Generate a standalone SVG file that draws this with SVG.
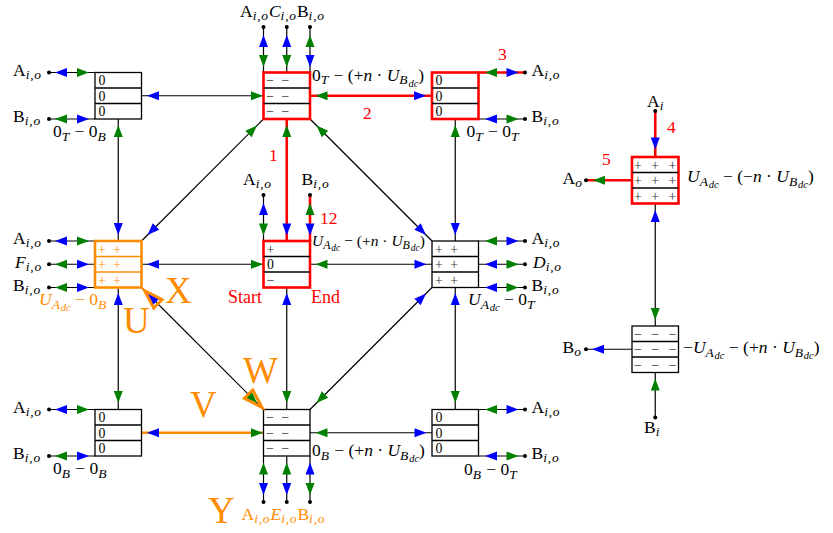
<svg xmlns="http://www.w3.org/2000/svg" xmlns:xlink="http://www.w3.org/1999/xlink" width="833" height="533" viewBox="0 0 833 533">
<style>
text{font-family:"Liberation Serif","Times New Roman",serif;font-size:17.5px;fill:#000}
.i{font-style:italic}
.s{font-size:13.5px;font-style:italic;letter-spacing:0.8px}
.ss{font-size:10.5px;font-style:italic}
.red{fill:#ff0000}
.org{fill:#ff8c00}
.big{font-size:37px;fill:#ff8c00}
.cell{font-size:13.8px}
.dash{font-size:13.8px;fill:#666;font-weight:bold;letter-spacing:2px}
.pl{font-size:13.8px;fill:#333;letter-spacing:2px}
.pl3{letter-spacing:3px}
.box{fill:#fff;stroke:#000;stroke-width:1.3}
.boxr{fill:#fff;stroke:#ff0000;stroke-width:2.6}
.boxo{fill:#fff;stroke:#ff8c00;stroke-width:2.6}
.sep{stroke:#000;stroke-width:1.3}
.sepo{stroke:#ff8c00;stroke-width:1.3}
.ln{stroke:#000;stroke-width:1.2;fill:none}
.lr{stroke:#ff0000;stroke-width:2.6;fill:none}
.lo{stroke:#ff8c00;stroke-width:2.6;fill:none}
.b{fill:#0000ff}
.g{fill:#008000}
.dot{fill:#000}
.mk{fill:none;stroke:#ff8c00;stroke-width:3}
.sm{font-size:15.5px}
.sm .s{font-size:12px}
.sm .ss{font-size:9.5px}
</style>
<defs>
<path id="ah" d="M0,0 L-12,-4.5 L-12,4.5 Z"/>
</defs>

<g id="connectors">
<line class="ln" x1="141.5" y1="95.75" x2="263.5" y2="95.75"/>
<line class="lr" x1="310" y1="95.75" x2="432" y2="95.75"/>
<line class="ln" x1="141.5" y1="264.25" x2="263.5" y2="264.25"/>
<line class="ln" x1="310" y1="264.25" x2="432" y2="264.25"/>
<line class="lo" x1="141.5" y1="432.75" x2="263.5" y2="432.75"/>
<line class="ln" x1="310" y1="432.75" x2="432" y2="432.75"/>
<line class="ln" x1="118.25" y1="119" x2="118.25" y2="241"/>
<line class="ln" x1="118.25" y1="287.5" x2="118.25" y2="409.5"/>
<line class="lr" x1="286.75" y1="119" x2="286.75" y2="241"/>
<line class="ln" x1="286.75" y1="287.5" x2="286.75" y2="409.5"/>
<line class="ln" x1="455.25" y1="119" x2="455.25" y2="241"/>
<line class="ln" x1="455.25" y1="287.5" x2="455.25" y2="409.5"/>
<line class="ln" x1="263.5" y1="119" x2="141.5" y2="241"/>
<line class="ln" x1="310" y1="119" x2="432" y2="241"/>
<line class="ln" x1="141.5" y1="287.5" x2="263.5" y2="409.5"/>
<line class="ln" x1="432" y1="287.5" x2="310" y2="409.5"/>
<line class="ln" x1="49" y1="72.5" x2="95" y2="72.5"/>
<line class="ln" x1="49" y1="119" x2="95" y2="119"/>
<line class="ln" x1="263.5" y1="27" x2="263.5" y2="72.5"/>
<line class="ln" x1="286.75" y1="27" x2="286.75" y2="72.5"/>
<line class="ln" x1="310" y1="27" x2="310" y2="72.5"/>
<line class="lr" x1="478.5" y1="72.5" x2="525" y2="72.5"/>
<line class="ln" x1="478.5" y1="119" x2="525" y2="119"/>
<line class="ln" x1="49" y1="241" x2="95" y2="241"/>
<line class="ln" x1="49" y1="264.25" x2="95" y2="264.25"/>
<line class="ln" x1="49" y1="287.5" x2="95" y2="287.5"/>
<line class="ln" x1="263.5" y1="195" x2="263.5" y2="241"/>
<line class="lr" x1="310" y1="195" x2="310" y2="241"/>
<line class="ln" x1="478.5" y1="241" x2="525" y2="241"/>
<line class="ln" x1="478.5" y1="264.25" x2="525" y2="264.25"/>
<line class="ln" x1="478.5" y1="287.5" x2="525" y2="287.5"/>
<line class="ln" x1="49" y1="409.5" x2="95" y2="409.5"/>
<line class="ln" x1="49" y1="456" x2="95" y2="456"/>
<line class="ln" x1="263.5" y1="456" x2="263.5" y2="502"/>
<line class="ln" x1="286.75" y1="456" x2="286.75" y2="502"/>
<line class="ln" x1="310" y1="456" x2="310" y2="502"/>
<line class="ln" x1="478.5" y1="409.5" x2="525" y2="409.5"/>
<line class="ln" x1="478.5" y1="456" x2="525" y2="456"/>
<line class="lr" x1="655.25" y1="111" x2="655.25" y2="157"/>
<line class="lr" x1="586" y1="180.25" x2="632" y2="180.25"/>
<line class="ln" x1="655.25" y1="203.5" x2="655.25" y2="326"/>
<line class="ln" x1="586" y1="349.25" x2="632" y2="349.25"/>
<line class="ln" x1="655.25" y1="372.5" x2="655.25" y2="417.5"/>

<circle class="dot" cx="49" cy="72.5" r="2"/>
<circle class="dot" cx="49" cy="119" r="2"/>
<circle class="dot" cx="263.5" cy="27" r="2"/>
<circle class="dot" cx="286.75" cy="27" r="2"/>
<circle class="dot" cx="310" cy="27" r="2"/>
<circle class="dot" cx="525" cy="72.5" r="2"/>
<circle class="dot" cx="525" cy="119" r="2"/>
<circle class="dot" cx="49" cy="241" r="2"/>
<circle class="dot" cx="49" cy="264.25" r="2"/>
<circle class="dot" cx="49" cy="287.5" r="2"/>
<circle class="dot" cx="263.5" cy="195" r="2"/>
<circle class="dot" cx="310" cy="195" r="2"/>
<circle class="dot" cx="525" cy="241" r="2"/>
<circle class="dot" cx="525" cy="264.25" r="2"/>
<circle class="dot" cx="525" cy="287.5" r="2"/>
<circle class="dot" cx="49" cy="409.5" r="2"/>
<circle class="dot" cx="49" cy="456" r="2"/>
<circle class="dot" cx="263.5" cy="502" r="2"/>
<circle class="dot" cx="286.75" cy="502" r="2"/>
<circle class="dot" cx="310" cy="502" r="2"/>
<circle class="dot" cx="525" cy="409.5" r="2"/>
<circle class="dot" cx="525" cy="456" r="2"/>
<circle class="dot" cx="655.25" cy="111" r="2"/>
<circle class="dot" cx="586" cy="180.25" r="2"/>
<circle class="dot" cx="586" cy="349.25" r="2"/>
<circle class="dot" cx="655.25" cy="417.5" r="2"/>

<use href="#ah" class="b" transform="translate(147,95.75) rotate(180)"/>
<use href="#ah" class="g" transform="translate(263,95.75)"/>
<use href="#ah" class="g" transform="translate(315.5,95.75) rotate(180)"/>
<use href="#ah" class="b" transform="translate(426,95.75)"/>
<use href="#ah" class="b" transform="translate(147,264.25) rotate(180)"/>
<use href="#ah" class="g" transform="translate(263,264.25)"/>
<use href="#ah" class="g" transform="translate(315.5,264.25) rotate(180)"/>
<use href="#ah" class="b" transform="translate(426.5,264.25)"/>
<use href="#ah" class="b" transform="translate(147,432.75) rotate(180)"/>
<use href="#ah" class="g" transform="translate(263,432.75)"/>
<use href="#ah" class="g" transform="translate(315.5,432.75) rotate(180)"/>
<use href="#ah" class="b" transform="translate(426.5,432.75)"/>
<use href="#ah" class="g" transform="translate(118.25,125) rotate(-90)"/>
<use href="#ah" class="b" transform="translate(118.25,235) rotate(90)"/>
<use href="#ah" class="b" transform="translate(118.25,293) rotate(-90)"/>
<use href="#ah" class="g" transform="translate(118.25,403) rotate(90)"/>
<use href="#ah" class="g" transform="translate(286.75,125) rotate(-90)"/>
<use href="#ah" class="b" transform="translate(286.75,235.5) rotate(90)"/>
<use href="#ah" class="b" transform="translate(286.75,293) rotate(-90)"/>
<use href="#ah" class="g" transform="translate(286.75,403) rotate(90)"/>
<use href="#ah" class="g" transform="translate(455.25,125) rotate(-90)"/>
<use href="#ah" class="b" transform="translate(455.25,235) rotate(90)"/>
<use href="#ah" class="b" transform="translate(455.25,293) rotate(-90)"/>
<use href="#ah" class="g" transform="translate(455.25,403) rotate(90)"/>
<use href="#ah" class="g" transform="translate(257,125.5) rotate(-45)"/>
<use href="#ah" class="b" transform="translate(147.5,235) rotate(135)"/>
<use href="#ah" class="g" transform="translate(316.5,125.5) rotate(-135)"/>
<use href="#ah" class="b" transform="translate(426,235) rotate(45)"/>
<use href="#ah" class="b" transform="translate(147.5,293.5) rotate(-135)"/>
<use href="#ah" class="g" transform="translate(257,403) rotate(45)"/>
<use href="#ah" class="b" transform="translate(426,293.5) rotate(-45)"/>
<use href="#ah" class="g" transform="translate(316.5,403) rotate(135)"/>
<use href="#ah" class="b" transform="translate(55,72.5) rotate(180)"/>
<use href="#ah" class="g" transform="translate(89,72.5)"/>
<use href="#ah" class="g" transform="translate(55,119) rotate(180)"/>
<use href="#ah" class="b" transform="translate(89,119)"/>
<use href="#ah" class="b" transform="translate(263.5,35) rotate(-90)"/>
<use href="#ah" class="g" transform="translate(263.5,67) rotate(90)"/>
<use href="#ah" class="b" transform="translate(286.75,35) rotate(-90)"/>
<use href="#ah" class="g" transform="translate(286.75,67) rotate(90)"/>
<use href="#ah" class="g" transform="translate(310,35) rotate(-90)"/>
<use href="#ah" class="b" transform="translate(310,67) rotate(90)"/>
<use href="#ah" class="g" transform="translate(485,72.5) rotate(180)"/>
<use href="#ah" class="b" transform="translate(518.5,72.5)"/>
<use href="#ah" class="b" transform="translate(485,119) rotate(180)"/>
<use href="#ah" class="g" transform="translate(518.5,119)"/>
<use href="#ah" class="b" transform="translate(55,241) rotate(180)"/>
<use href="#ah" class="g" transform="translate(89,241)"/>
<use href="#ah" class="g" transform="translate(55,264.25) rotate(180)"/>
<use href="#ah" class="b" transform="translate(89,264.25)"/>
<use href="#ah" class="g" transform="translate(55,287.5) rotate(180)"/>
<use href="#ah" class="b" transform="translate(89,287.5)"/>
<use href="#ah" class="b" transform="translate(263.5,203) rotate(-90)"/>
<use href="#ah" class="g" transform="translate(263.5,235.5) rotate(90)"/>
<use href="#ah" class="g" transform="translate(310,203) rotate(-90)"/>
<use href="#ah" class="b" transform="translate(310,235.5) rotate(90)"/>
<use href="#ah" class="g" transform="translate(485,241) rotate(180)"/>
<use href="#ah" class="b" transform="translate(518.5,241)"/>
<use href="#ah" class="b" transform="translate(485,264.25) rotate(180)"/>
<use href="#ah" class="g" transform="translate(518.5,264.25)"/>
<use href="#ah" class="b" transform="translate(485,287.5) rotate(180)"/>
<use href="#ah" class="g" transform="translate(518.5,287.5)"/>
<use href="#ah" class="b" transform="translate(55,409.5) rotate(180)"/>
<use href="#ah" class="g" transform="translate(89,409.5)"/>
<use href="#ah" class="g" transform="translate(55,456) rotate(180)"/>
<use href="#ah" class="b" transform="translate(89,456)"/>
<use href="#ah" class="g" transform="translate(263.5,462.5) rotate(-90)"/>
<use href="#ah" class="b" transform="translate(263.5,495) rotate(90)"/>
<use href="#ah" class="g" transform="translate(286.75,462.5) rotate(-90)"/>
<use href="#ah" class="b" transform="translate(286.75,495) rotate(90)"/>
<use href="#ah" class="b" transform="translate(310,462.5) rotate(-90)"/>
<use href="#ah" class="g" transform="translate(310,495) rotate(90)"/>
<use href="#ah" class="g" transform="translate(485,409.5) rotate(180)"/>
<use href="#ah" class="b" transform="translate(518.5,409.5)"/>
<use href="#ah" class="b" transform="translate(485,456) rotate(180)"/>
<use href="#ah" class="g" transform="translate(518.5,456)"/>
<use href="#ah" class="b" transform="translate(655.25,149.5) rotate(90)"/>
<use href="#ah" class="g" transform="translate(593,180.25) rotate(180)"/>
<use href="#ah" class="b" transform="translate(655.25,210) rotate(-90)"/>
<use href="#ah" class="g" transform="translate(655.25,320) rotate(90)"/>
<use href="#ah" class="b" transform="translate(592,349.25) rotate(180)"/>
<use href="#ah" class="g" transform="translate(655.25,378.5) rotate(-90)"/>
</g>

<g id="node-tl">
<rect class="box" x="95" y="72.5" width="46.5" height="46.5"/>
<line class="sep" x1="95" y1="88" x2="141.5" y2="88"/><line class="sep" x1="95" y1="103.5" x2="141.5" y2="103.5"/>
<text class="cell"><tspan x="98.5" y="85.1">0</tspan><tspan x="98.5" y="100.6">0</tspan><tspan x="98.5" y="116.1">0</tspan></text>
<text x="53" y="137">0<tspan class="s" dy="3.5">T</tspan><tspan dy="-3.5"> − 0</tspan><tspan class="s" dy="3.5">B</tspan></text>
<text x="13" y="75.5">A<tspan class="s" dy="3">i,o</tspan></text>
<text x="13" y="122">B<tspan class="s" dy="3">i,o</tspan></text>
</g>

<g id="node-tc">
<rect class="boxr" x="263.5" y="72.5" width="46.5" height="46.5"/>
<line class="sep" x1="263.5" y1="88" x2="310" y2="88"/><line class="sep" x1="263.5" y1="103.5" x2="310" y2="103.5"/>
<text class="dash"><tspan x="266" y="85.1">− −</tspan><tspan x="266" y="100.6">− −</tspan><tspan x="266" y="116.1">− −</tspan></text>
<text x="312" y="80.5">0<tspan class="s" dy="3.5">T</tspan><tspan dy="-3.5"> − (+</tspan><tspan class="i">n</tspan><tspan> · </tspan><tspan class="i">U</tspan><tspan class="s" dy="3.5">B</tspan><tspan class="ss" dy="2.5">dc</tspan><tspan dy="-6">)</tspan></text>
<text x="240" y="17">A<tspan class="s" dy="3">i,o</tspan><tspan class="i" dy="-3">C</tspan><tspan class="s" dy="3">i,o</tspan><tspan dy="-3">B</tspan><tspan class="s" dy="3">i,o</tspan></text>
</g>

<g id="node-tr">
<rect class="boxr" x="432" y="72.5" width="46.5" height="46.5"/>
<line class="sep" x1="432" y1="88" x2="478.5" y2="88"/><line class="sep" x1="432" y1="103.5" x2="478.5" y2="103.5"/>
<text class="cell"><tspan x="435.5" y="85.1">0</tspan><tspan x="435.5" y="100.6">0</tspan><tspan x="435.5" y="116.1">0</tspan></text>
<text x="466.5" y="137">0<tspan class="s" dy="3.5">T</tspan><tspan dy="-3.5"> − 0</tspan><tspan class="s" dy="3.5">T</tspan></text>
<text x="531.5" y="75.5">A<tspan class="s" dy="3">i,o</tspan></text>
<text x="531.5" y="122">B<tspan class="s" dy="3">i,o</tspan></text>
</g>

<g id="node-ml">
<rect class="boxo" x="95" y="241" width="46.5" height="46.5"/>
<line class="sepo" x1="95" y1="256.5" x2="141.5" y2="256.5"/><line class="sepo" x1="95" y1="272" x2="141.5" y2="272"/>
<text class="pl" style="fill:#ff8c00"><tspan x="98" y="253.6">+ +</tspan><tspan x="98" y="269.1">+ +</tspan><tspan x="98" y="284.6">+ +</tspan></text>
<text class="org" x="39" y="305"><tspan class="i">U</tspan><tspan class="s" dy="3.5">A</tspan><tspan class="ss" dy="2.5">dc</tspan><tspan dy="-6"> − 0</tspan><tspan class="s" dy="3.5">B</tspan></text>
<text x="13" y="244">A<tspan class="s" dy="3">i,o</tspan></text>
<text x="15" y="267.5"><tspan class="i">F</tspan><tspan class="s" dy="3">i,o</tspan></text>
<text x="13" y="291">B<tspan class="s" dy="3">i,o</tspan></text>
</g>

<g id="node-c">
<rect class="boxr" x="263.5" y="241" width="46.5" height="46.5"/>
<line class="sep" x1="263.5" y1="256.5" x2="310" y2="256.5"/><line class="sep" x1="263.5" y1="272" x2="310" y2="272"/>
<text class="cell"><tspan x="266.5" y="253.6" style="fill:#333">+</tspan><tspan x="267" y="269.1">0</tspan><tspan x="266.5" y="284.6" style="fill:#666;font-weight:bold">−</tspan></text>
<text class="sm" x="312" y="246"><tspan class="i">U</tspan><tspan class="s" dy="3">A</tspan><tspan class="ss" dy="2">dc</tspan><tspan dy="-5"> − (+</tspan><tspan class="i">n</tspan><tspan> · </tspan><tspan class="i">U</tspan><tspan class="s" dy="3">B</tspan><tspan class="ss" dy="2">dc</tspan><tspan dy="-5">)</tspan></text>
<text x="243" y="185">A<tspan class="s" dy="3">i,o</tspan></text>
<text x="301.5" y="185">B<tspan class="s" dy="3">i,o</tspan></text>
<text class="red" x="228" y="302.5" style="font-size:18px">Start</text>
<text class="red" x="311" y="302.5" style="font-size:18px">End</text>
</g>

<g id="node-mr">
<rect class="box" x="432" y="241" width="46.5" height="46.5"/>
<line class="sep" x1="432" y1="256.5" x2="478.5" y2="256.5"/><line class="sep" x1="432" y1="272" x2="478.5" y2="272"/>
<text class="pl"><tspan x="435" y="253.6">+ +</tspan><tspan x="435" y="269.1">+ +</tspan><tspan x="435" y="284.6">+ +</tspan></text>
<text x="468" y="305"><tspan class="i">U</tspan><tspan class="s" dy="3.5">A</tspan><tspan class="ss" dy="2.5">dc</tspan><tspan dy="-6"> − 0</tspan><tspan class="s" dy="3.5">T</tspan></text>
<text x="531.5" y="244">A<tspan class="s" dy="3">i,o</tspan></text>
<text x="533" y="267.5"><tspan class="i">D</tspan><tspan class="s" dy="3">i,o</tspan></text>
<text x="531.5" y="291">B<tspan class="s" dy="3">i,o</tspan></text>
</g>

<g id="node-bl">
<rect class="box" x="95" y="409.5" width="46.5" height="46.5"/>
<line class="sep" x1="95" y1="425" x2="141.5" y2="425"/><line class="sep" x1="95" y1="440.5" x2="141.5" y2="440.5"/>
<text class="cell"><tspan x="98.5" y="422.1">0</tspan><tspan x="98.5" y="437.6">0</tspan><tspan x="98.5" y="453.1">0</tspan></text>
<text x="53" y="474">0<tspan class="s" dy="3.5">B</tspan><tspan dy="-3.5"> − 0</tspan><tspan class="s" dy="3.5">B</tspan></text>
<text x="13" y="412.5">A<tspan class="s" dy="3">i,o</tspan></text>
<text x="13" y="459">B<tspan class="s" dy="3">i,o</tspan></text>
</g>

<g id="node-bc">
<rect class="box" x="263.5" y="409.5" width="46.5" height="46.5"/>
<line class="sep" x1="263.5" y1="425" x2="310" y2="425"/><line class="sep" x1="263.5" y1="440.5" x2="310" y2="440.5"/>
<text class="dash"><tspan x="266" y="422.1">− −</tspan><tspan x="266" y="437.6">− −</tspan><tspan x="266" y="453.1">− −</tspan></text>
<text x="312" y="456">0<tspan class="s" dy="3.5">B</tspan><tspan dy="-3.5"> − (+</tspan><tspan class="i">n</tspan><tspan> · </tspan><tspan class="i">U</tspan><tspan class="s" dy="3.5">B</tspan><tspan class="ss" dy="2.5">dc</tspan><tspan dy="-6">)</tspan></text>
<text class="org" x="241.5" y="520">A<tspan class="s" dy="3">i,o</tspan><tspan class="i" dy="-3">E</tspan><tspan class="s" dy="3">i,o</tspan><tspan dy="-3">B</tspan><tspan class="s" dy="3">i,o</tspan></text>
</g>

<g id="node-br">
<rect class="box" x="432" y="409.5" width="46.5" height="46.5"/>
<line class="sep" x1="432" y1="425" x2="478.5" y2="425"/><line class="sep" x1="432" y1="440.5" x2="478.5" y2="440.5"/>
<text class="cell"><tspan x="435.5" y="422.1">0</tspan><tspan x="435.5" y="437.6">0</tspan><tspan x="435.5" y="453.1">0</tspan></text>
<text x="464" y="475">0<tspan class="s" dy="3.5">B</tspan><tspan dy="-3.5"> − 0</tspan><tspan class="s" dy="3.5">T</tspan></text>
<text x="531.5" y="412.5">A<tspan class="s" dy="3">i,o</tspan></text>
<text x="531.5" y="459">B<tspan class="s" dy="3">i,o</tspan></text>
</g>

<g id="node-rt">
<rect class="boxr" x="632" y="157" width="46.5" height="46.5"/>
<line class="sep" x1="632" y1="172.5" x2="678.5" y2="172.5"/><line class="sep" x1="632" y1="188" x2="678.5" y2="188"/>
<text class="pl pl3"><tspan x="634" y="169.6">+ + +</tspan><tspan x="634" y="185.1">+ + +</tspan><tspan x="634" y="200.6">+ + +</tspan></text>
<text x="687" y="182"><tspan class="i">U</tspan><tspan class="s" dy="3.5">A</tspan><tspan class="ss" dy="2.5">dc</tspan><tspan dy="-6"> − (−</tspan><tspan class="i">n</tspan><tspan> · </tspan><tspan class="i">U</tspan><tspan class="s" dy="3.5">B</tspan><tspan class="ss" dy="2.5">dc</tspan><tspan dy="-6">)</tspan></text>
<text x="647" y="107">A<tspan class="s" dy="3">i</tspan></text>
<text x="562.5" y="183.5">A<tspan class="s" dy="3">o</tspan></text>
</g>

<g id="node-rb">
<rect class="box" x="632" y="326" width="46.5" height="46.5"/>
<line class="sep" x1="632" y1="341.5" x2="678.5" y2="341.5"/><line class="sep" x1="632" y1="357" x2="678.5" y2="357"/>
<text class="dash pl3"><tspan x="634" y="338.6">− − −</tspan><tspan x="634" y="354.1">− − −</tspan><tspan x="634" y="369.6">− − −</tspan></text>
<text x="683" y="353">−<tspan class="i">U</tspan><tspan class="s" dy="3.5">A</tspan><tspan class="ss" dy="2.5">dc</tspan><tspan dy="-6"> − (+</tspan><tspan class="i">n</tspan><tspan> · </tspan><tspan class="i">U</tspan><tspan class="s" dy="3.5">B</tspan><tspan class="ss" dy="2.5">dc</tspan><tspan dy="-6">)</tspan></text>
<text x="562.5" y="352.5">B<tspan class="s" dy="3">o</tspan></text>
<text x="644" y="433">B<tspan class="s" dy="3">i</tspan></text>
</g>

<g id="annotations">
<text class="red" x="269" y="161">1</text>
<text class="red" x="363" y="118.5">2</text>
<text class="red" x="498" y="60">3</text>
<text class="red" x="667" y="133">4</text>
<text class="red" x="602" y="165">5</text>
<text class="red" x="320" y="224">12</text>
<polygon class="mk" points="144.5,290.5 162.1,299.7 153.7,308.1"/>
<polygon class="mk" points="262,407.5 252.8,389.9 244.4,398.3"/>
<text class="big" x="165" y="303">X</text>
<text class="big" x="123" y="333">U</text>
<text class="big" x="243" y="383">W</text>
<text class="big" x="190" y="417">V</text>
<text class="big" x="208" y="523">Y</text>
</g>
</svg>
